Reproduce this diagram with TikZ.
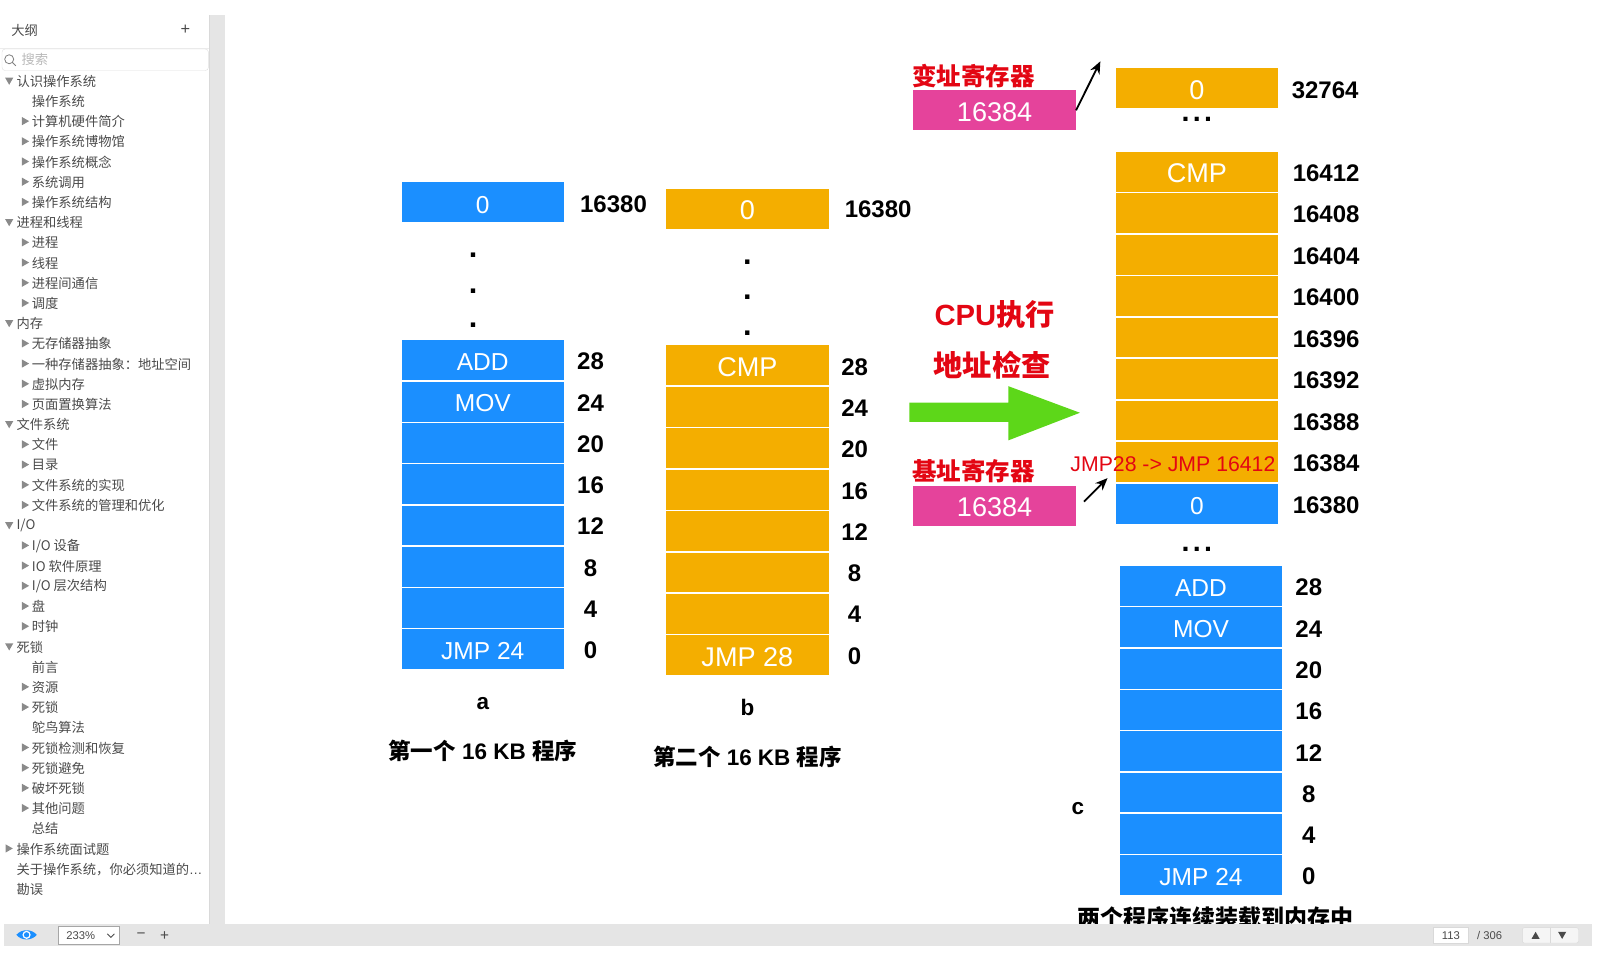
\documentclass[tikz,border=0pt]{standalone}
\usepackage{fontspec}
\usetikzlibrary{arrows.meta}
\setmainfont{Liberation Sans}
\newfontfamily\cjk{Noto Sans CJK SC}
\newcommand{\setfs}[1]{\fontsize{#1}{#1}\selectfont}
\definecolor{memblue}{HTML}{1B8FFF}
\definecolor{memorange}{HTML}{F4AE00}
\definecolor{regpink}{HTML}{E5439B}
\definecolor{hotred}{HTML}{E30613}
\definecolor{arrowgreen}{HTML}{5DD719}
\definecolor{bargray}{HTML}{E5E5E5}
\definecolor{navgray}{HTML}{4A4A4A}
\definecolor{trigray}{HTML}{8A8A8A}
\tikzset{>={Stealth[length=12pt,width=10pt]}}
\tikzset{
    cell/.style={rectangle, minimum width=159pt, minimum height=39pt, inner sep=0pt, text height=21pt, text depth=0pt, text=white},
    bluecell/.style={cell, fill=memblue, text height=19.5pt, font=\setfs{24}},
    orangecell/.style={cell, fill=memorange, font=\setfs{26.5}},
    regbox/.style={cell, fill=regpink, font=\setfs{26.5}},
    addr/.style={inner sep=0pt, text=black, font=\setfs{23.5}\bfseries},
    dotmark/.style={inner sep=0pt, anchor=base, text=black, font=\setfs{30}\bfseries},
    caption/.style={inner sep=0pt, text=black, font=\setfs{22}\bfseries},
    redtitle/.style={inner sep=0pt, text=hotred, font=\setfs{24}\bfseries\cjk},
    navitem/.style={anchor=west, inner sep=0pt, text=navgray, font=\setfs{13}\cjk},
    baritem/.style={inner sep=0pt, text=navgray, font=\setfs{11}},
    closedtri/.pic={\fill[trigray] (-3.5,-4) -- (3.5,0) -- (-3.5,4) -- cycle;},
    opentri/.pic={\fill[trigray] (-4,-3) -- (4,-3) -- (0,4) -- cycle;},
}
\begin{document}
\begin{tikzpicture}[x=1pt, y=-1pt]
    \useasboundingbox (0,0) rectangle (1568,933.7);
    % sidebar
    \fill[bargray] (205,15) rectangle (220,904);
    \draw[gray!30] (205,15) -- (205,904);
    \node[navitem] (outline) at (11,29.5) {大纲};
    \node[inner sep=0pt, text=navgray, font=\setfs{16}] (addoutline) at (181.5,29.5) {+};
    \draw[gray!15] (0,47) -- (205,47);
    \draw[gray!25, rounded corners=3pt, fill=white] (2,48) rectangle (204,69);
    \draw[gray, thick] (9,58) circle (4.4) (12.2,61.2) -- (15.5,64.5);
    \node[navitem, text=gray!55] (search) at (21,58.5) {搜索};
    \foreach \r/\txt in {0/认识操作系统,7/进程和线程,12/内存,17/文件系统,22/{I/O},28/死锁}{
        \pic at (9,{79+19.775*\r}) {opentri};
        \node[navitem] (row\r) at (16,{79.5+19.775*\r}) {\txt};
    }
    \pic at (9,{79+19.775*38}) {closedtri};
    \node[navitem] (row38) at (16,{79.5+19.775*38}) {操作系统面试题};
    \node[navitem] (row39) at (16,{79.5+19.775*39}) {关于操作系统，你必须知道的{\rmfamily…}};
    \node[navitem] (row40) at (16,{79.5+19.775*40}) {勘误};
    \foreach \r/\txt in {1/操作系统,29/前言,32/鸵鸟算法,37/总结}
        \node[navitem] (row\r) at (31,{79.5+19.775*\r}) {\txt};
    \foreach \r/\txt in {2/计算机硬件简介,3/操作系统博物馆,4/操作系统概念,5/系统调用,6/操作系统结构,
        8/进程,9/线程,10/进程间通信,11/调度,
        13/无存储器抽象,14/一种存储器抽象：地址空间,15/虚拟内存,16/页面置换算法,
        18/文件,19/目录,20/文件系统的实现,21/文件系统的管理和优化,
        23/{I/O 设备},24/IO 软件原理,25/{I/O 层次结构},26/盘,27/时钟,
        30/资源,31/死锁,33/死锁检测和恢复,34/死锁避免,35/破坏死锁,36/其他问题}{
        \pic at (25,{79+19.775*\r}) {closedtri};
        \node[navitem] (row\r) at (31,{79.5+19.775*\r}) {\txt};
    }
    % program a
    \node[bluecell, text height=21pt] (atop) at (472.5,198) {0};
    \node[addr] (atoplab) at (600.5,199.5) {16380};
    \foreach \d/\y in {1/248,2/283,3/317}
        \node[dotmark] (adot\d) at (463,\y+4) {.};
    \foreach \i/\lab/\val in {0/JMP 24/0,1//4,2//8,3//12,4//16,5//20,6/MOV/24,7/ADD/28}{
        \node[bluecell] (a\i) at (472.5,{635.5-40.4*\i}) {\lab};
        \node[addr] (alab\i) at (578,{636.5-40.4*\i}) {\val};
    }
    \node[caption] (aname) at (472.5,688.5) {a};
    \node[caption] (atext) at (472.5,735) {{\cjk 第一个} 16 KB {\cjk 程序}};
    % program b
    \node[orangecell] (btop) at (731.5,204.5) {0};
    \node[addr] (btoplab) at (859.5,205) {16380};
    \foreach \d/\y in {1/255,2/289,3/324}
        \node[dotmark] (bdot\d) at (731.5,\y+4) {.};
    \foreach \i/\lab/\val in {0/JMP 28/0,1//4,2//8,3//12,4//16,5//20,6//24,7/CMP/28}{
        \node[orangecell] (b\i) at (731.5,{641.5-40.55*\i}) {\lab};
        \node[addr] (blab\i) at (836.5,{642-40.4*\i}) {\val};
    }
    \node[caption] (bname) at (731.5,692.5) {b};
    \node[caption] (btext) at (731.5,741) {{\cjk 第二个} 16 KB {\cjk 程序}};
    % registers and the big arrow
    \node[redtitle] (limitname) at (953,74.5) {变址寄存器};
    \node[regbox] (limitreg) at (973.5,108) {16384};
    \coordinate (limitend) at (1077,60);
    \draw[->, line width=1.8pt] (limitreg.east) -- (limitend);
    \node[inner sep=0pt, text=hotred, font=\setfs{28.6}\bfseries] (cputext) at (973.5,308) {CPU{\cjk 执行}};
    \node[inner sep=0pt, text=hotred, font=\setfs{28.6}\bfseries\cjk] (checktext) at (971,357) {地址检查};
    \fill[arrowgreen] (890,394) -- (987,394) -- (987,378) -- (1057,404) -- (987,431) -- (987,413) -- (890,413) -- cycle;
    \node[redtitle] (basename) at (953,461.5) {基址寄存器};
    \node[regbox] (basereg) at (973.5,495.5) {16384};
    \coordinate (basestart) at (1061,491);
    \coordinate (baseend) at (1084,468);
    \draw[->, line width=1.8pt] (basestart) -- (baseend);
    % memory c
    \node[orangecell] (ctop) at (1171.5,86.5) {0};
    \node[addr] (ctoplab) at (1297,88.5) {32764};
    \node[dotmark, font=\setfs{28}\bfseries] (cdots1) at (1171.5,118.5) {.\kern3.2pt.\kern3.2pt.};
    \foreach \i/\lab/\val in {0/CMP/16412,1//16408,2//16404,3//16400,4//16396,5//16392,6//16388,7//16384}{
        \node[orangecell] (c\i) at (1171.5,{168+40.6*\i}) {\lab};
        \node[addr] (clab\i) at (1298,{169.5+40.6*\i}) {\val};
    }
    \node[bluecell, text height=21pt] (c8) at (1171.5,493) {0};
    \node[addr] (clab8) at (1298,494.5) {16380};
    \node[inner sep=0pt, text=hotred, font=\setfs{20.8}] (jmptext) at (1148,454) {JMP28 -> JMP 16412};
    \node[dotmark, font=\setfs{28}\bfseries] (cdots2) at (1171.5,539.5) {.\kern3.2pt.\kern3.2pt.};
    \foreach \i/\lab/\val in {0/JMP 24/0,1//4,2//8,3//12,4//16,5//20,6/MOV/24,7/ADD/28}{
        \node[bluecell] (d\i) at (1175.5,{856.5-40.4*\i}) {\lab};
        \node[addr] (dlab\i) at (1281,{858-40.4*\i}) {\val};
    }
    \node[caption] (cname) at (1055,791) {c};
    \node[caption, font=\setfs{22.5}\bfseries\cjk] (ctext) at (1190,898) {两个程序连续装载到内存中};
    % bottom bar
    \fill[bargray] (4,904) rectangle (1558,926);
    \fill[memblue] (16,915) .. controls (21,909) and (31,909) .. (36,915) .. controls (31,921) and (21,921) .. (16,915) -- cycle;
    \fill[white] (26,915) circle (4);
    \fill[memblue] (26,915) circle (2.6);
    \node[baritem, draw=gray!70, fill=white, minimum width=60pt, minimum height=17pt] (zoombox) at (87,915.5) {\hspace{-16pt}233\%};
    \draw[navgray, thick] (105,914) -- (108.5,917.5) -- (112,914);
    \node[baritem, font=\setfs{15}] (zoomout) at (138,916) {−};
    \node[baritem, font=\setfs{15}] (zoomin) at (161,916) {+};
    \node[baritem, draw=gray!30, fill=white, minimum width=34pt, minimum height=15pt] (pagebox) at (1420,915.5) {113};
    \node[baritem] (pagetotal) at (1458,915.5) {/ 306};
    \draw[gray!30, fill=gray!8, rounded corners=2pt] (1490,908) rectangle (1545,923);
    \draw[gray!30] (1517,908) -- (1517,923);
    \fill[navgray] (1499,919) -- (1507,919) -- (1503,912) -- cycle;
    \fill[navgray] (1525,912) -- (1533,912) -- (1529,919) -- cycle;
\end{tikzpicture}
\end{document}
